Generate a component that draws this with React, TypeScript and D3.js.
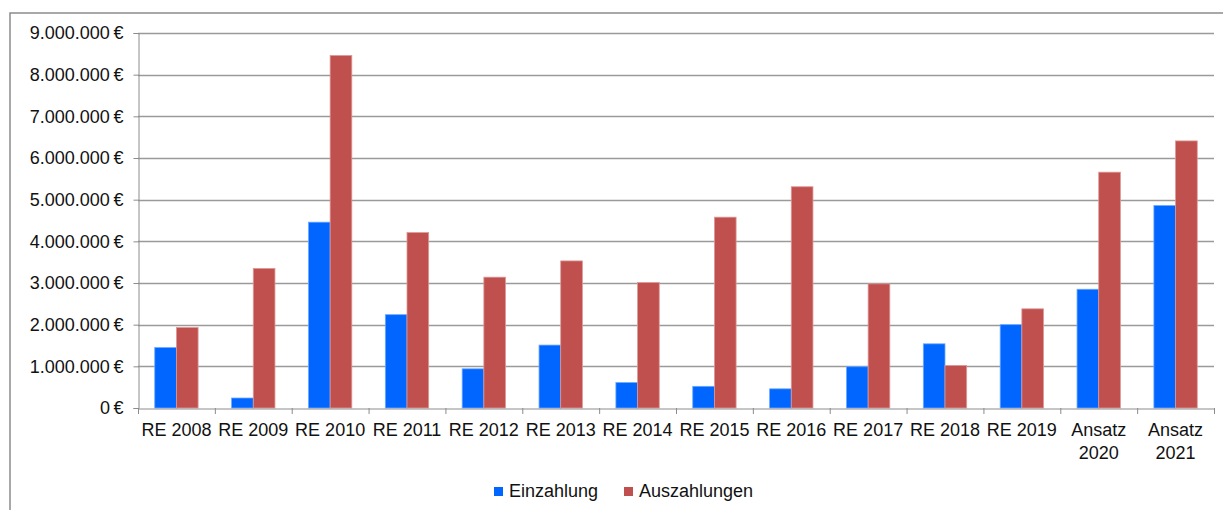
import React, { useEffect, useRef } from "react";
import * as d3 from "d3";

const categories: string[] = [
  "RE 2008",
  "RE 2009",
  "RE 2010",
  "RE 2011",
  "RE 2012",
  "RE 2013",
  "RE 2014",
  "RE 2015",
  "RE 2016",
  "RE 2017",
  "RE 2018",
  "RE 2019",
  "Ansatz 2020",
  "Ansatz 2021",
];

const einzahlung: number[] = [
  1450000, 240000, 4460000, 2240000, 940000, 1510000, 610000, 520000, 460000,
  990000, 1540000, 2000000, 2850000, 4860000,
];

const auszahlungen: number[] = [
  1930000, 3350000, 8460000, 4210000, 3140000, 3530000, 3010000, 4580000,
  5310000, 2980000, 1020000, 2380000, 5660000, 6410000,
];

const seriesNames: string[] = ["Einzahlung", "Auszahlungen"];
const seriesColors: string[] = ["#0066ff", "#c0504d"];
const seriesStroke: string[] = ["#6aa8ff", "#dc9896"];

const yTicks: number[] = [
  0, 1000000, 2000000, 3000000, 4000000, 5000000, 6000000, 7000000, 8000000,
  9000000,
];

const formatEuro = (v: number): string =>
  (v === 0 ? "0" : d3.format(",")(v).replace(/,/g, ".")) + "\u202f€";

function App(): JSX.Element {
  const chartRef = useRef<SVGSVGElement>(null);

  useEffect(() => {
    if (!chartRef.current) return;
    const svg = d3.select(chartRef.current);
    svg.selectAll("*").remove();

    const left = 138;
    const right = 1214;
    const top = 33;
    const bottom = 408;
    const font = "'Liberation Sans', Arial, sans-serif";

    // outer chart frame (cut off at right and bottom)
    svg
      .append("rect")
      .attr("x", 10)
      .attr("y", 13)
      .attr("width", 1240)
      .attr("height", 520)
      .attr("fill", "white")
      .attr("stroke", "#8c8c8c")
      .attr("stroke-width", 1.5);

    const x0 = d3.scaleBand<string>().domain(categories).range([left, right]);
    const groupWidth = x0.bandwidth() * 0.564;
    const x1 = d3
      .scaleBand<string>()
      .domain(seriesNames)
      .range([
        (x0.bandwidth() - groupWidth) / 2,
        (x0.bandwidth() + groupWidth) / 2,
      ]);

    const y = d3.scaleLinear().domain([0, 9000000]).range([bottom, top]);

    // gridlines
    svg
      .append("g")
      .selectAll("line")
      .data(yTicks.filter((t) => t > 0))
      .enter()
      .append("line")
      .attr("x1", left)
      .attr("x2", right)
      .attr("y1", (d) => Math.round(y(d)) + 0.5)
      .attr("y2", (d) => Math.round(y(d)) + 0.5)
      .attr("stroke", "#9a9a9a")
      .attr("stroke-width", 1.3);

    // y axis
    const yAxis = svg
      .append("g")
      .attr("transform", `translate(${left + 0.5},0)`)
      .call(
        d3
          .axisLeft(y)
          .tickValues(yTicks)
          .tickSize(5)
          .tickPadding(10)
          .tickFormat((d) => formatEuro(d as number))
      );
    yAxis.select(".domain").attr("stroke", "#8c8c8c");
    yAxis.selectAll(".tick line").attr("stroke", "#8c8c8c");
    yAxis
      .selectAll("text")
      .attr("fill", "#111")
      .style("font-family", font)
      .style("font-size", "18px")
      .style("letter-spacing", "0.5px");

    // bars
    const seriesData = [einzahlung, auszahlungen];
    seriesData.forEach((values, si) => {
      svg
        .append("g")
        .selectAll("rect")
        .data(values)
        .enter()
        .append("rect")
        .attr("x", (_, i) => x0(categories[i])! + x1(seriesNames[si])!)
        .attr("y", (d) => y(d))
        .attr("width", x1.bandwidth())
        .attr("height", (d) => bottom - y(d))
        .attr("fill", seriesColors[si])
        .attr("stroke", seriesStroke[si])
        .attr("stroke-width", 0.8);
    });

    // x axis
    const xAxis = svg
      .append("g")
      .attr("transform", `translate(0,${bottom + 0.5})`)
      .call(
        d3
          .axisBottom(x0)
          .tickSize(0)
          .tickFormat(() => "")
      );
    xAxis.select(".domain").attr("stroke", "#8c8c8c");

    svg
      .append("g")
      .selectAll("line")
      .data(d3.range(categories.length + 1))
      .enter()
      .append("line")
      .attr("x1", (i) => left + i * x0.step() + 0.5)
      .attr("x2", (i) => left + i * x0.step() + 0.5)
      .attr("y1", bottom)
      .attr("y2", bottom + 6)
      .attr("stroke", "#8c8c8c");

    const labels = svg
      .append("g")
      .selectAll("text")
      .data(categories)
      .enter()
      .append("text")
      .attr("x", (d) => x0(d)! + x0.bandwidth() / 2)
      .attr("y", 436)
      .attr("text-anchor", "middle")
      .attr("fill", "#111")
      .style("font-family", font)
      .style("font-size", "18px");

    labels.each(function (d) {
      const parts = d.startsWith("Ansatz") ? d.split(" ") : [d];
      parts.forEach((p, i) => {
        d3.select(this)
          .append("tspan")
          .attr("x", x0(d)! + x0.bandwidth() / 2)
          .attr("dy", i === 0 ? 0 : 23)
          .text(p);
      });
    });

    // legend
    const legendX = [494, 624];
    seriesNames.forEach((name, i) => {
      svg
        .append("rect")
        .attr("x", legendX[i])
        .attr("y", 487)
        .attr("width", 9)
        .attr("height", 9)
        .attr("fill", seriesColors[i]);
      svg
        .append("text")
        .attr("x", legendX[i] + 15)
        .attr("y", 497)
        .attr("fill", "#111")
        .style("font-family", font)
        .style("font-size", "18px")
        .text(name);
    });
  }, []);

  return (
    <div style={{ position: "absolute", left: 0, top: 0 }}>
      <svg ref={chartRef} width={1223} height={510} style={{ display: "block" }}></svg>
    </div>
  );
}

export default App;
